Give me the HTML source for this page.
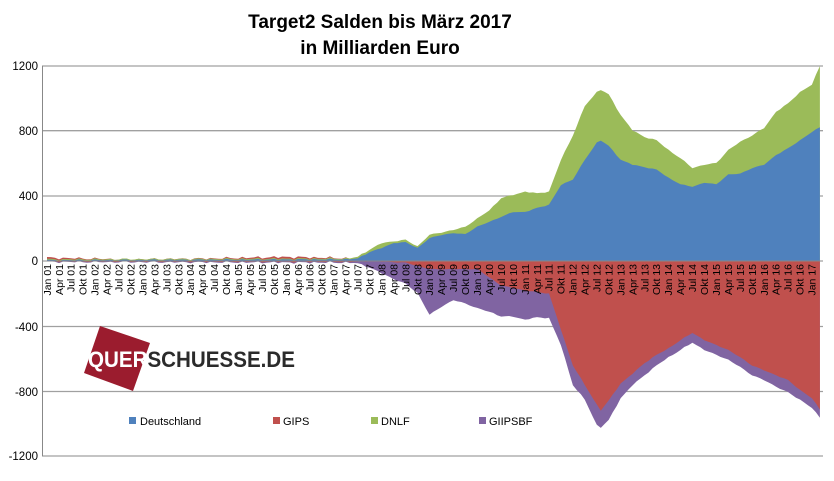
<!DOCTYPE html>
<html><head><meta charset="utf-8"><style>
body{margin:0;background:#fff;}
svg text{font-family:"Liberation Sans",Arial,sans-serif;}
</style></head><body>
<svg width="834" height="476" viewBox="0 0 834 476" xmlns="http://www.w3.org/2000/svg">
<rect width="834" height="476" fill="#fff"/>
<text x="380" y="28" font-size="19" font-weight="bold" text-anchor="middle">Target2 Salden bis März 2017</text>
<text x="380" y="54" font-size="19" font-weight="bold" text-anchor="middle">in Milliarden Euro</text>
<g stroke="#a0a0a0" stroke-width="1.3">
<line x1="42" y1="66" x2="823" y2="66"/>
<line x1="42" y1="130.7" x2="823" y2="130.7"/>
<line x1="42" y1="196" x2="823" y2="196"/>
<line x1="42" y1="326.5" x2="823" y2="326.5"/>
<line x1="42" y1="391.5" x2="823" y2="391.5"/>
<line x1="42" y1="456" x2="823" y2="456"/>
</g>
<g font-size="11.5" text-anchor="end">
<text x="38" y="70">1200</text><text x="38" y="135">800</text><text x="38" y="200">400</text><text x="38" y="265">0</text>
<text x="38" y="331">-400</text><text x="38" y="396">-800</text><text x="38" y="460">-1200</text>
</g>
<g id="areas"></g>
<line x1="42" y1="261" x2="823" y2="261" stroke="#888" stroke-width="1"/>
<line x1="42.5" y1="66" x2="42.5" y2="456" stroke="#888" stroke-width="1"/>
<g id="labels" font-size="10.5" text-anchor="end"></g>
<polygon points="100,326 150,343 133,391 84,373" fill="#9b1c2e"/>
<text x="88" y="367" font-size="22" font-weight="bold" textLength="207" lengthAdjust="spacingAndGlyphs"><tspan fill="#fff">QUER</tspan><tspan fill="#2b2b2b">SCHUESSE.DE</tspan></text>
<g font-size="11">
<rect x="129" y="417" width="7" height="7" fill="#4f81bd"/><text x="140" y="425">Deutschland</text>
<rect x="273" y="417" width="7" height="7" fill="#c0504d"/><text x="283" y="425">GIPS</text>
<rect x="371" y="417" width="7" height="7" fill="#9bbb59"/><text x="381" y="425">DNLF</text>
<rect x="479" y="417" width="7" height="7" fill="#8064a2"/><text x="489" y="425">GIIPSBF</text>
</g>
</svg>
<script>
var X=function(t){return 47+t*3.984;};
var Y=function(v){return 261-v*0.1632;};
function interp(k,t){for(var i=0;i<k.length-1;i++){if(t>=k[i][0]&&t<=k[i+1][0]){var a=k[i],b=k[i+1];return a[1]+(b[1]-a[1])*(t-a[0])/(b[0]-a[0]);}}return k[k.length-1][1];}
function noise(t,a){return a*(Math.sin(t*1.7)+0.6*Math.sin(t*3.1+1)+0.4*Math.sin(t*5.3+2))/2;}
var blue=[[0,5],[75,10],[78,15],[81,55],[84,80],[87,110],[90,115],[93,80],[96,140],[99,160],[102,170],[105,165],[108,210],[111,240],[114,270],[117,300],[120,300],[123,325],[126,345],[129,465],[132,500],[135,620],[138,725],[139,740],[141,705],[144,620],[147,590],[150,575],[153,560],[156,510],[159,470],[162,455],[165,480],[168,470],[171,530],[174,535],[177,570],[180,590],[183,650],[186,690],[189,740],[192,790],[194,820]];
var green=[[0,10],[75,15],[78,25],[81,70],[84,110],[87,120],[90,130],[93,90],[96,160],[99,175],[102,190],[105,210],[108,260],[111,310],[114,385],[117,405],[120,425],[123,415],[126,425],[129,620],[132,770],[135,950],[138,1035],[139,1050],[141,1020],[144,895],[147,800],[150,760],[153,740],[156,680],[159,630],[162,570],[165,590],[168,600],[171,680],[174,730],[177,770],[180,815],[183,915],[186,965],[189,1035],[192,1080],[194,1195]];
var red=[[0,-3],[78,-5],[81,0],[90,-10],[93,-30],[96,-50],[108,-50],[111,-100],[114,-150],[120,-180],[126,-200],[129,-420],[132,-640],[135,-760],[138,-880],[139,-915],[141,-855],[144,-750],[147,-690],[150,-625],[153,-575],[156,-535],[159,-485],[162,-440],[165,-485],[168,-515],[171,-545],[174,-590],[177,-640],[180,-670],[183,-700],[186,-730],[189,-790],[192,-840],[194,-910]];
var purp=[[0,-6],[76,-10],[78,-15],[81,-40],[84,-75],[87,-110],[90,-140],[93,-195],[96,-330],[99,-280],[102,-240],[105,-260],[108,-290],[111,-310],[114,-340],[117,-340],[120,-360],[123,-345],[126,-350],[129,-515],[132,-760],[135,-850],[138,-1005],[139,-1020],[141,-975],[144,-840],[147,-760],[150,-700],[153,-640],[156,-590],[159,-545],[162,-500],[165,-545],[168,-575],[171,-605],[174,-650],[177,-700],[180,-730],[183,-770],[186,-805],[189,-850],[192,-900],[194,-960]];
function area(k,col,amp){var d="M"+X(0)+","+Y(0);for(var t=0;t<=194;t+=1){var v=interp(k,t);var n=t<80?noise(t,amp):noise(t,amp*0.5);d+=" L"+X(t).toFixed(1)+","+Y(v+n).toFixed(1);}d+=" L"+X(194)+","+Y(0)+" Z";return '<path d="'+d+'" fill="'+col+'"/>';}
var redpos=[[0,20],[20,10],[40,15],[60,25],[70,20],[78,15],[80,5],[81,0]];
function posRed(){var d="M"+X(0)+","+Y(0);for(var t=0;t<=81;t++){d+=" L"+X(t).toFixed(1)+","+Y(Math.max(0,interp(redpos,t)+noise(t,10))).toFixed(1);}d+=" L"+X(81)+","+Y(0)+" Z";return '<path d="'+d+'" fill="#c0504d"/>';}
document.getElementById('areas').innerHTML=posRed()+area(green,'#9bbb59',8)+area(blue,'#4f81bd',6)+area(purp,'#8064a2',8)+area(red,'#c0504d',6);
</script>
<script>
var L=document.getElementById('labels');
var names=["Jan 01","Apr 01","Jul 01","Okt 01","Jan 02","Apr 02","Jul 02","Okt 02","Jan 03","Apr 03","Jul 03","Okt 03","Jan 04","Apr 04","Jul 04","Okt 04","Jan 05","Apr 05","Jul 05","Okt 05","Jan 06","Apr 06","Jul 06","Okt 06","Jan 07","Apr 07","Jul 07","Okt 07","Jan 08","Apr 08","Jul 08","Okt 08","Jan 09","Apr 09","Jul 09","Okt 09","Jan 10","Apr 10","Jul 10","Okt 10","Jan 11","Apr 11","Jul 11","Okt 11","Jan 12","Apr 12","Jul 12","Okt 12","Jan 13","Apr 13","Jul 13","Okt 13","Jan 14","Apr 14","Jul 14","Okt 14","Jan 15","Apr 15","Jul 15","Okt 15","Jan 16","Apr 16","Jul 16","Okt 16","Jan 17"];
var s="";for(var i=0;i<names.length;i++){var x=(47+i*11.95+3.8).toFixed(1);s+='<text transform="translate('+x+',264) rotate(-90)">'+names[i]+'</text>';}
L.innerHTML=s;
</script>
</body></html>
